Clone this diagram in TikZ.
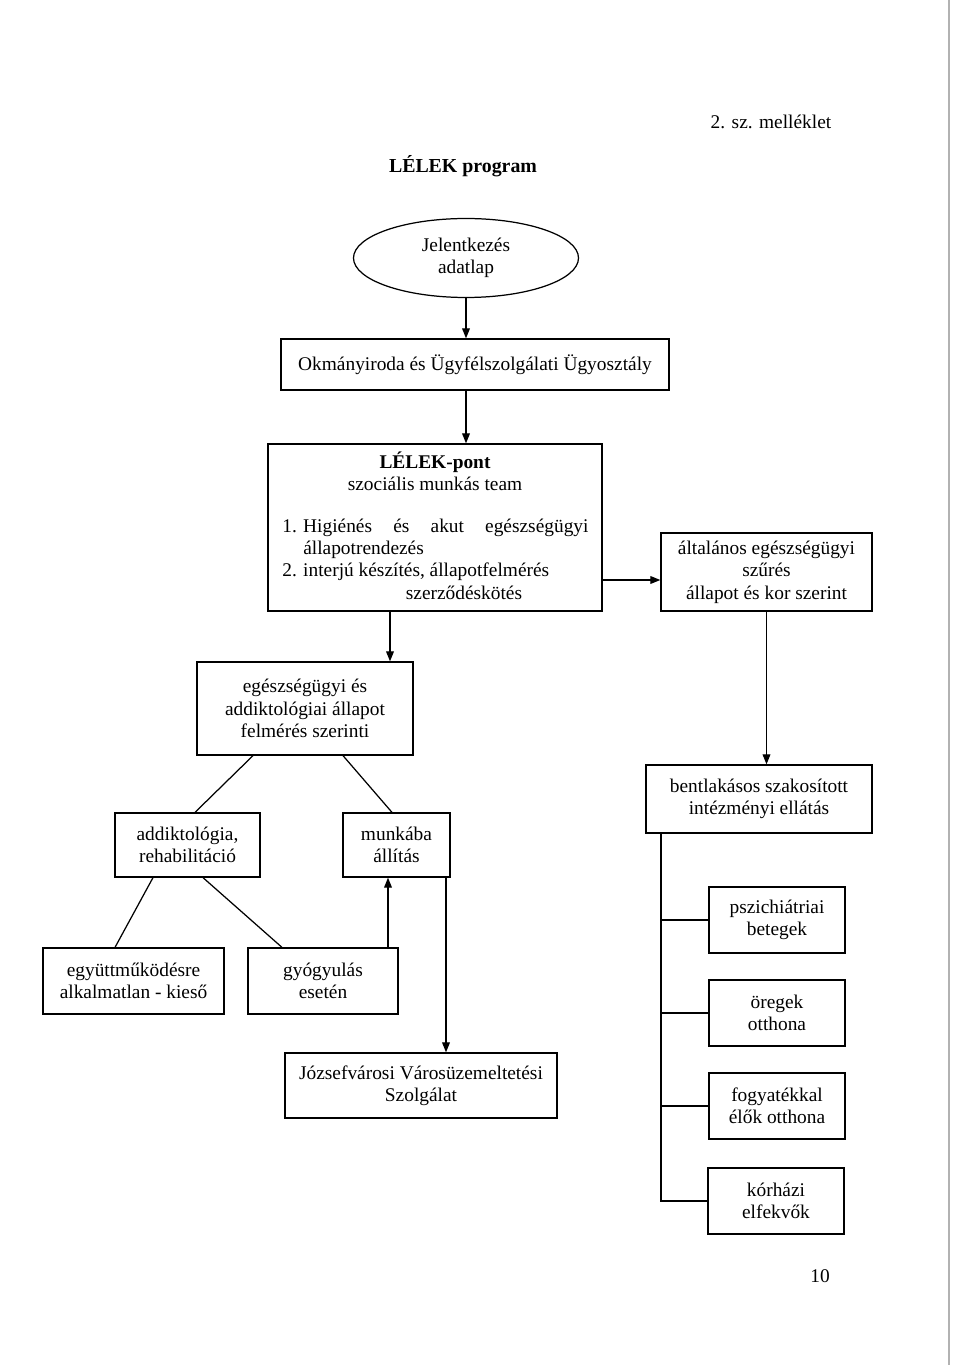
\documentclass[tikz,border=0pt]{standalone}
\usepackage{fontspec}
\setmainfont{Liberation Serif}
\usetikzlibrary{shapes,arrows,arrows.meta,positioning}
\tikzset{
    box/.style={draw,rectangle,line width=0.8pt,inner sep=0pt,align=center,
        font=\fontsize{12.5}{14.5}\selectfont},
    wh/.style 2 args={minimum width=#1*0.645pt,minimum height=#2*0.645pt},
    txt/.style={inner sep=0pt,font=\fontsize{12.5}{14.5}\selectfont,text height=1.6ex,text depth=.3ex},
    conn/.style={line width=0.8pt},
    arr/.style={line width=0.8pt,-{Triangle[length=6.5pt,width=5pt]}}
}
\begin{document}
\begin{tikzpicture}[x=0.645pt,y=-0.645pt]
    \useasboundingbox (0,0) rectangle (960,1370);
    \node[txt] (mell) at (771,124) {2. sz. melléklet};
    \node[txt,font=\fontsize{12.8}{14.5}\selectfont\bfseries] (title) at (463,168) {LÉLEK program};
    %%
    \node[draw,ellipse,line width=0.8pt,wh={225}{79},align=center,inner sep=0pt,
        font=\fontsize{12.5}{14.5}\selectfont] (jel) at (466,258) {Jelentkezés\\adatlap};
    \node[box,wh={388}{51}] (okm) at (475,364.5) {Okmányiroda és Ügyfélszolgálati Ügyosztály};
    \draw[arr] (jel.south) -- (jel.south |- okm.north);
    %%
    \node[box,wh={334}{167}] (pont) at (435,527.5) {};
    \node[txt,font=\fontsize{12.5}{14.5}\selectfont\bfseries] (ponttitle) at (435,464) {LÉLEK-pont};
    \node[txt] (team) at (435,486) {szociális munkás team};
    \node[txt,anchor=west] (p1) at (282,528) {\makebox[13.5pt][l]{1.}\makebox[184pt][s]{Higiénés és akut egészségügyi}};
    \node[txt,anchor=west] (p1b) at (303,550) {állapotrendezés};
    \node[txt,anchor=west] (p2) at (282,572) {\makebox[13.5pt][l]{2.}interjú készítés, állapotfelmérés};
    \node[txt] (p2b) at (464,595) {szerződéskötés};
    \draw[arr] (jel.south |- okm.south) -- (jel.south |- pont.north);
    %%
    \node[box,wh={211}{78}] (alt) at (766.5,572) {általános egészségügyi\\szűrés\\állapot és kor szerint};
    \draw[arr] (pont.east |- 0,580) -- (alt.west |- 0,580);
    \node[box,wh={226}{68}] (bent) at (759,799) {bentlakásos szakosított\\intézményi ellátás};
    \draw[arr] (alt.south) -- (alt.south |- bent.north);
    %%
    \node[box,wh={216}{93}] (egesz) at (305,708.5) {egészségügyi és\\addiktológiai állapot\\felmérés szerinti};
    \draw[arr] (390,0 |- pont.south) -- (390,0 |- egesz.north);
    \node[box,wh={145}{64}] (addik) at (187.5,845) {addiktológia,\\rehabilitáció};
    \node[box,wh={107}{64}] (munka) at (396.5,845) {munkába\\állítás};
    \draw[conn] (253,0 |- egesz.south) -- (195,0 |- addik.north);
    \draw[conn] (343,0 |- egesz.south) -- (392,0 |- munka.north);
    %%
    \node[box,wh={181}{66}] (egyutt) at (133.5,981) {együttműködésre\\alkalmatlan - kieső};
    \node[box,wh={150}{66}] (gyogy) at (323,981) {gyógyulás\\esetén};
    \draw[conn] (153,0 |- addik.south) -- (115,0 |- egyutt.north);
    \draw[conn] (203,0 |- addik.south) -- (282,0 |- gyogy.north);
    \draw[arr] (388,0 |- gyogy.north) -- (388,0 |- munka.south);
    %%
    \node[box,wh={272}{65}] (jozsef) at (421,1085.5) {Józsefvárosi Városüzemeltetési\\Szolgálat};
    \draw[arr] (446,0 |- munka.south) -- (446,0 |- jozsef.north);
    %%
    \node[box,wh={136}{66}] (pszich) at (777,920) {pszichiátriai\\betegek};
    \node[box,wh={136}{66}] (oreg) at (777,1013) {öregek\\otthona};
    \node[box,wh={136}{66}] (fogy) at (777,1106) {fogyatékkal\\élők otthona};
    \node[box,wh={136}{66}] (korh) at (776,1201) {kórházi\\elfekvők};
    \draw[conn] (661,0 |- bent.south) |- (korh.west);
    \draw[conn] (661,0 |- pszich.west) -- (pszich.west);
    \draw[conn] (661,0 |- oreg.west) -- (oreg.west);
    \draw[conn] (661,0 |- fogy.west) -- (fogy.west);
    %%
    \node[txt] (oldal) at (820,1278) {10};
    \draw[gray!60,line width=0.8pt] (949,0) -- (949,1365);
\end{tikzpicture}
\end{document}
